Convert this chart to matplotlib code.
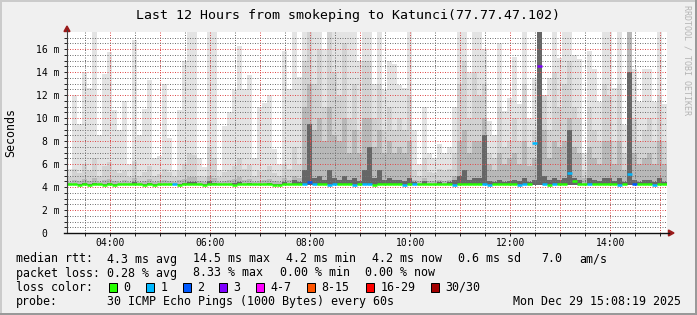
import numpy as np
import matplotlib
matplotlib.use("Agg")
import matplotlib.pyplot as plt
import matplotlib.transforms as mtransforms
from matplotlib.lines import Line2D
from matplotlib.patches import Rectangle, Polygon

plt.rcParams["font.family"] = ["DejaVu Sans Mono"]

# 12 hours ending Mon Dec 29 15:08:19 2025, one bin = 6 minutes
t_end = 15 + 8 / 60 + 19 / 3600
t_start = t_end - 12
bin_hours = 0.1

# smoke levels (ms): max ping, upper pings, middle pings, pings near median
ping_max = [5.6, 12.0, 9.5, 14.0, 12.6, 17.5, 8.5, 13.8, 15.7, 10.7, 9.0, 11.5, 6.0, 16.8, 8.5, 10.8, 13.3, 6.5, 6.7, 13.0,
            8.3, 5.5, 10.7, 15.0, 17.5, 17.5, 6.5, 5.7, 17.5, 17.5, 5.5, 9.3, 10.5, 12.4, 16.3, 12.5, 13.7, 6.5, 11.0, 11.3,
            12.0, 7.3, 6.0, 15.8, 12.5, 17.5, 13.6, 17.5, 17.5, 17.5, 17.5, 16.0, 17.5, 17.5, 17.5, 17.5, 17.5, 17.5, 15.0, 17.5,
            17.5, 13.0, 17.5, 12.4, 15.0, 14.7, 12.9, 12.6, 17.5, 9.0, 6.0, 11.0, 7.0, 6.5, 7.7, 7.0, 7.5, 11.0, 17.5, 17.5,
            14.0, 17.5, 17.5, 16.0, 9.7, 8.5, 16.5, 10.6, 11.7, 15.3, 11.2, 17.5, 10.0, 13.5, 17.5, 11.0, 13.5, 17.5, 15.2, 17.5,
            17.5, 15.5, 15.1, 7.0, 15.8, 14.3, 11.4, 17.5, 17.5, 12.6, 17.5, 9.4, 17.5, 14.3, 11.4, 14.3, 14.3, 11.4, 17.5, 11.2]
ping_hi = [4.9, 5.6, 5.2, 6.0, 5.4, 6.5, 5.0, 5.8, 6.2, 5.5, 5.2, 5.4, 4.9, 6.3, 5.0, 5.3, 5.8, 5.0, 5.1, 5.6,
           5.3, 4.9, 5.4, 6.0, 7.0, 6.8, 5.0, 4.9, 7.5, 6.5, 4.9, 5.3, 5.5, 5.8, 6.5, 5.6, 5.9, 5.0, 5.4, 5.5,
           5.8, 5.2, 5.0, 6.0, 5.6, 7.5, 6.0, 15.0, 17.5, 13.0, 16.0, 11.0, 17.5, 14.0, 12.0, 16.5, 10.0, 13.0, 9.0, 15.0,
           15.0, 10.0, 13.0, 9.0, 11.0, 9.0, 10.0, 9.0, 12.0, 5.5, 5.0, 6.5, 5.3, 5.2, 5.6, 5.4, 5.6, 7.0, 13.0, 15.0,
           10.0, 14.0, 12.0, 13.0, 7.0, 6.5, 11.0, 7.5, 8.0, 10.0, 8.0, 13.0, 7.5, 9.0, 17.5, 12.0, 9.0, 14.0, 11.0, 13.0,
           15.0, 11.0, 10.0, 5.5, 11.0, 9.0, 8.0, 13.0, 12.0, 8.0, 13.0, 7.0, 17.5, 10.0, 8.0, 9.0, 10.0, 8.0, 12.0, 8.0]
ping_mid = [4.45, 4.6, 4.5, 4.7, 4.5, 4.8, 4.45, 4.6, 4.7, 4.5, 4.45, 4.6, 4.45, 4.8, 4.45, 4.5, 4.7, 4.45, 4.5, 4.6,
            4.5, 4.45, 4.6, 4.7, 4.9, 4.9, 4.5, 4.45, 5.0, 4.8, 4.45, 4.5, 4.6, 4.7, 4.9, 4.6, 4.7, 4.45, 4.5, 4.6,
            4.7, 4.5, 4.45, 4.8, 4.6, 5.0, 4.8, 11.0, 13.0, 9.0, 10.0, 8.0, 11.0, 8.5, 8.0, 10.0, 7.0, 9.0, 7.0, 10.0,
            10.0, 7.5, 9.0, 7.0, 8.0, 7.0, 7.5, 7.0, 8.0, 4.6, 4.5, 4.8, 4.5, 4.5, 4.6, 4.5, 4.6, 5.0, 8.0, 9.0,
            7.0, 8.0, 8.0, 10.0, 6.0, 5.5, 7.0, 6.0, 6.5, 7.0, 6.0, 8.0, 5.8, 6.5, 17.5, 9.0, 6.5, 8.0, 7.5, 8.0,
            10.0, 7.5, 7.0, 4.8, 7.5, 6.5, 6.0, 8.0, 8.0, 6.0, 8.0, 5.5, 17.5, 7.0, 6.0, 6.5, 7.0, 6.0, 8.0, 6.0]
ping_dark = [4.3, 4.3, 4.3, 4.35, 4.3, 4.35, 4.3, 4.3, 4.35, 4.3, 4.3, 4.3, 4.3, 4.4, 4.3, 4.3, 4.35, 4.3, 4.3, 4.3,
             4.3, 4.3, 4.3, 4.35, 4.4, 4.4, 4.3, 4.3, 4.5, 4.35, 4.3, 4.3, 4.3, 4.35, 4.4, 4.3, 4.35, 4.3, 4.3, 4.3,
             4.35, 4.3, 4.3, 4.4, 4.3, 4.6, 4.4, 5.5, 9.5, 4.8, 5.0, 4.6, 5.5, 4.8, 4.6, 5.0, 4.6, 4.8, 4.5, 5.5,
             7.5, 4.8, 5.5, 4.6, 4.8, 4.6, 4.6, 4.5, 4.8, 4.4, 4.3, 4.5, 4.3, 4.3, 4.4, 4.3, 4.4, 4.6, 5.0, 5.5,
             4.6, 4.8, 4.8, 8.5, 4.5, 4.4, 4.6, 4.4, 4.5, 4.6, 4.5, 4.8, 4.4, 4.6, 17.5, 5.0, 4.6, 4.8, 4.6, 4.8,
             9.0, 4.8, 4.6, 4.3, 4.8, 4.6, 4.5, 4.8, 4.8, 4.5, 4.8, 4.4, 14.0, 4.6, 4.4, 4.6, 4.6, 4.4, 4.8, 4.4]
ping_min = 4.15

median = [4.25, 4.25, 4.2, 4.25, 4.2, 4.25, 4.25, 4.2, 4.25, 4.2, 4.25, 4.25, 4.25, 4.25, 4.25, 4.2, 4.25, 4.2, 4.25, 4.25,
          4.25, 4.25, 4.2, 4.25, 4.25, 4.25, 4.25, 4.2, 4.25, 4.25, 4.25, 4.25, 4.25, 4.2, 4.25, 4.25, 4.25, 4.25, 4.25, 4.25,
          4.25, 4.2, 4.2, 4.25, 4.25, 4.25, 4.25, 4.3, 4.4, 4.25, 4.25, 4.25, 4.2, 4.25, 4.25, 4.25, 4.25, 4.2, 4.25, 4.25,
          4.25, 4.2, 4.25, 4.25, 4.25, 4.25, 4.25, 4.2, 4.25, 4.25, 4.25, 4.25, 4.25, 4.25, 4.25, 4.25, 4.25, 4.2, 4.25, 4.25,
          4.25, 4.25, 4.25, 4.3, 4.2, 4.25, 4.25, 4.25, 4.25, 4.25, 4.2, 4.25, 4.25, 7.8, 14.5, 4.25, 4.2, 4.25, 4.25, 4.25,
          5.2, 4.5, 4.25, 4.25, 4.25, 4.25, 4.25, 4.25, 4.25, 4.25, 4.2, 4.25, 5.1, 4.3, 4.25, 4.25, 4.25, 4.2, 4.25, 4.25]
# lost pings out of 30 per bin
loss = [0, 0, 0, 0, 0, 0, 0, 0, 0, 0, 0, 0, 0, 0, 0, 0, 0, 0, 0, 0,
        0, 1, 0, 0, 0, 0, 0, 0, 0, 0, 0, 0, 0, 0, 0, 0, 0, 0, 0, 0,
        0, 0, 0, 0, 0, 0, 0, 1, 2, 1, 0, 0, 1, 1, 0, 0, 0, 1, 0, 1,
        1, 0, 0, 0, 0, 0, 0, 1, 0, 1, 0, 0, 0, 0, 0, 0, 0, 1, 0, 0,
        0, 0, 0, 1, 1, 0, 0, 0, 0, 0, 1, 1, 0, 1, 3, 1, 0, 1, 0, 0,
        1, 0, 0, 0, 1, 0, 0, 0, 0, 0, 1, 0, 1, 2, 0, 0, 0, 1, 0, 0]

loss_labels = ["0", "1", "2", "3", "4-7", "8-15", "16-29", "30/30"]
loss_lower = [0, 1, 2, 3, 4, 8, 16, 30]
loss_colors = ["#26ff00", "#00b8ff", "#0059ff", "#7e00ff", "#ff00ff", "#ff5500", "#ff0000", "#a10000"]

title = "Last 12 Hours from smokeping to Katunci(77.77.47.102)"
legend_rows = [
    [(16, "median rtt:"), (107.3, "4.3 ms avg"), (193.3, "14.5 ms max"), (286, "4.2 ms min"),
     (372.3, "4.2 ms now"), (458.3, "0.6 ms sd"), (541.7, "7.0"), (579.3, "am/s")],
    [(16, "packet loss:"), (107.3, "0.28 % avg"), (193.3, "8.33 % max"), (279.5, "0.00 % min"), (365.3, "0.00 % now")],
    [(16, "loss color:")],
    [(16, "probe:"), (107.3, "30 ICMP Echo Pings (1000 Bytes) every 60s"), (513.3, "Mon Dec 29 15:08:19 2025")],
]

W, H = 697, 315
fig = plt.figure(figsize=(W / 100, H / 100), dpi=100, facecolor="#f0f0f0")


def P(x, y):
    return (x / W, 1 - y / H)


# 3d frame like rrdtool
for (x0, y0, x1, y1, c) in [(0, 1, W, 1, "#cbcbcb"), (1, 0, 1, H, "#cbcbcb"),
                            (0, H - 1, W, H - 1, "#999999"), (W - 1, 0, W - 1, H, "#999999")]:
    a, b = P(x0, y0), P(x1, y1)
    fig.add_artist(Line2D([a[0], b[0]], [a[1], b[1]], color=c, lw=1.44, transform=fig.transFigure))

ax = fig.add_axes([67 / W, 1 - 233 / H, 600 / W, 201 / H])
ax.set_facecolor("white")
ax.set_xlim(t_start, t_end)
ax.set_ylim(0, 201 / 11.5)
for s in ax.spines.values():
    s.set_visible(False)

edges = t_start + bin_hours * np.arange(len(ping_max) + 1)
ax.stairs(ping_max, edges, baseline=ping_min, fill=True, color="#e3e3e3", lw=0, zorder=1)
ax.stairs(ping_hi, edges, baseline=ping_min, fill=True, color="#d2d2d2", lw=0, zorder=1.1)
ax.stairs(ping_mid, edges, baseline=ping_min, fill=True, color="#b8b8b8", lw=0, zorder=1.2)
ax.stairs(ping_dark, edges, baseline=ping_min, fill=True, color="#666666", lw=0, zorder=1.3)

cls = np.searchsorted(loss_lower, loss, side="right") - 1
ax.hlines(median, edges[:-1], edges[1:], colors=[loss_colors[c] for c in cls], lw=1.8, zorder=4)

# grid on top of the smoke, as rrdtool draws it
hours = np.arange(4, 16)
ax.set_xticks(hours)
ax.set_xticks(hours - 0.5, minor=True)
yt = np.arange(0, 17, 2)
ax.set_yticks(yt)
ax.set_yticks([v for v in np.arange(0.5, 17.5, 0.5) if v % 2], minor=True)
ax.set_axisbelow(False)
ax.grid(which="major", color=(0.87, 0.3, 0.3, 0.38), linestyle=(0, (1, 1.5)), lw=0.72, zorder=2.5)
ax.grid(which="minor", color=(0.45, 0.45, 0.45, 0.27), linestyle=(0, (1, 1.5)), lw=0.72, zorder=2.5)
ax.tick_params(which="both", length=2, width=0.7, color="#202020", direction="out",
               labelbottom=False, labelleft=False)

# axes with arrows
for (x0, y0, x1, y1, c, lw) in [(67, 233, 67, 30, "#404040", 0.8), (64, 233, 669, 233, "#101010", 1.0)]:
    a, b = P(x0, y0), P(x1, y1)
    fig.add_artist(Line2D([a[0], b[0]], [a[1], b[1]], color=c, lw=lw, transform=fig.transFigure, zorder=5))
fig.add_artist(Polygon([P(67, 26), P(64, 31.5), P(70, 31.5)], closed=True, color="#9a1a1a", transform=fig.transFigure))
fig.add_artist(Polygon([P(674, 233), P(668.5, 230), P(668.5, 236)], closed=True, color="#9a1a1a", transform=fig.transFigure))

# axis labels
for h in range(4, 16, 2):
    ax.text(h, (233 - 246) / 201, f"{h:02d}:00", transform=ax.get_xaxis_transform(),
            ha="center", va="baseline", fontsize=7)
ytrans = mtransforms.offset_copy(ax.get_yaxis_transform(), fig=fig, x=0, y=-3.8, units="dots")
for v in yt:
    if v == 0:
        ax.text((47.5 - 67) / 600, v, "0", transform=ytrans, ha="right", va="baseline", fontsize=7)
    else:
        ax.text((59.5 - 67) / 600, v, f"{v} m", transform=ytrans, ha="right", va="baseline", fontsize=7)

fig.text(*P(348, 18.5), title, ha="center", va="baseline", fontsize=9.5)
fig.text(*P(11, 132.5), "Seconds", rotation=90, ha="center", va="center", fontsize=8.4)
fig.text(*P(687, 5), "RRDTOOL / TOBI OETIKER", rotation=270, ha="center", va="top",
         fontsize=6, color="#b4b4b4")

# legend
baselines = [262.5, 276.5, 290.7, 304.8]
for row, yb in zip(legend_rows, baselines):
    for x, s in row:
        fig.text(*P(x, yb), s, ha="left", va="baseline", fontsize=8.4)
box_x = [108.7, 145.7, 182.7, 219, 256, 306.7, 365.7, 430.7]
for bx, lab, col in zip(box_x, loss_labels, loss_colors):
    fig.add_artist(Rectangle(P(bx, 291.5), 8 / W, 9 / H, facecolor=col, edgecolor="black",
                             lw=0.72, transform=fig.transFigure))
    fig.text(*P(bx + 14.6, baselines[2]), lab, ha="left", va="baseline", fontsize=8.4)

fig.savefig("out.png", dpi=100, facecolor=fig.get_facecolor())
